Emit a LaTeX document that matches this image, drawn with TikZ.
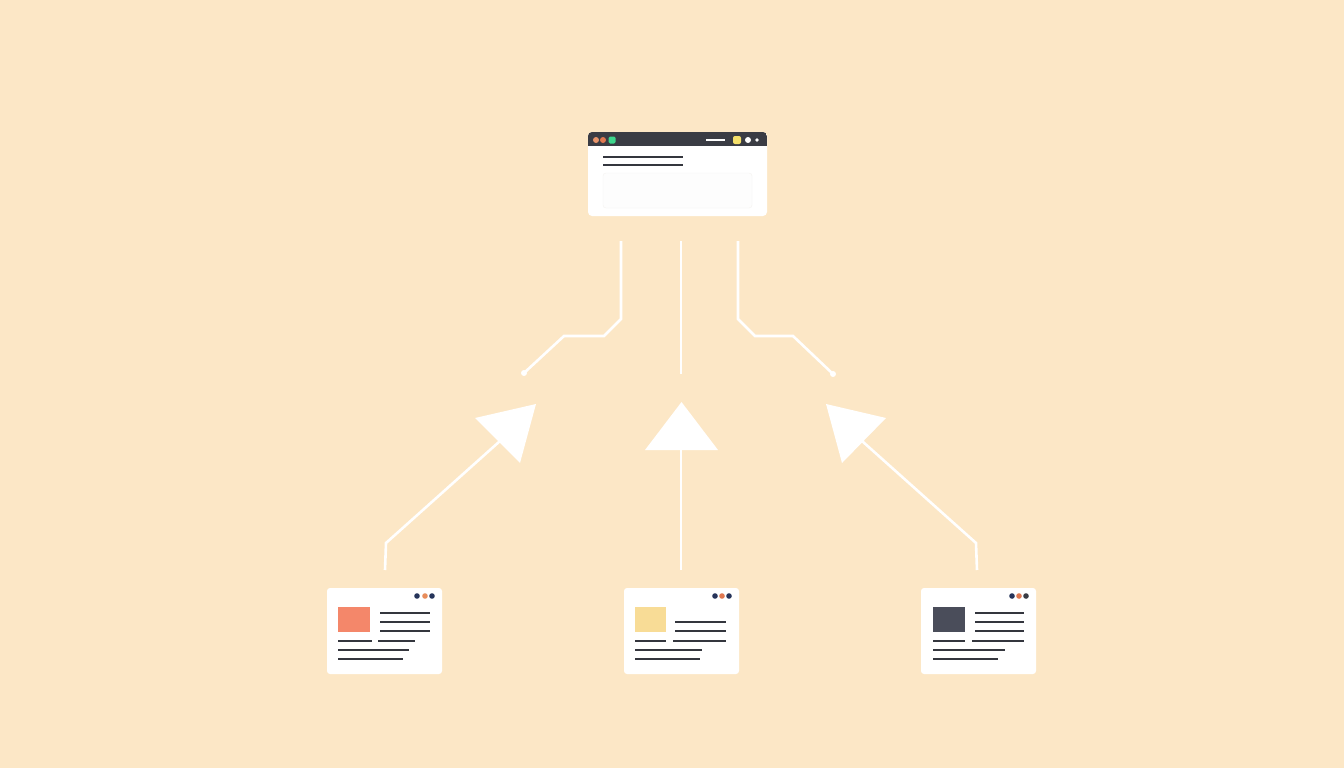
\documentclass[tikz,border=0pt]{standalone}
\usetikzlibrary{calc}
\definecolor{bgc}{RGB}{252,231,198}
\definecolor{darkbar}{RGB}{58,60,68}
\definecolor{ink}{RGB}{52,54,62}
\definecolor{navy}{RGB}{38,52,90}
\definecolor{dotor}{RGB}{232,140,90}
\definecolor{salmon}{RGB}{244,135,106}
\definecolor{sand}{RGB}{248,220,150}
\definecolor{slate}{RGB}{74,77,90}
\definecolor{tbor}{RGB}{232,148,106}
\definecolor{tbred}{RGB}{224,120,80}
\definecolor{tbgreen}{RGB}{61,214,140}
\definecolor{tbyel}{RGB}{245,224,106}
\tikzset{
  card/.style={fill=white, rounded corners=3pt, inner sep=0pt, minimum width=115pt, minimum height=86pt},
  winbox/.style={fill=white, rounded corners=4pt, inner sep=0pt, minimum width=179pt, minimum height=84pt},
  wire/.style={draw=white, line width=2.6pt, line join=miter, line cap=butt},
  head/.style={fill=white},
  txt/.style={draw=ink, line width=2.3pt},
  wtxt/.style={draw=white, line width=2.2pt}
}
\begin{document}
\begin{tikzpicture}[x=1pt,y=-1pt]
\fill[bgc] (0,0) rectangle (1344,768);
\useasboundingbox (0,0) rectangle (1344,768);

% top window
\node[winbox] (top) at (677.5,174) {};
\begin{scope}
  \clip[rounded corners=4pt] (588,132) rectangle (767,216);
  \fill[darkbar] (588,132) rectangle (767,146);
\end{scope}
\fill[tbor] (596,140) circle (3);
\fill[tbred] (603,140) circle (3);
\fill[tbgreen, rounded corners=1.5pt] (608.5,136.5) rectangle (615.5,143.5);
\draw[wtxt] (706,140) -- (725,140);
\fill[tbyel, rounded corners=2pt] (733,136) rectangle (741,144);
\fill[white] (748,140) circle (3);
\fill[white] (757,140) circle (1.8);
\draw[txt] (603,157) -- (683,157);
\draw[txt] (603,165) -- (683,165);
\draw[draw={rgb,255:red,245;green,243;blue,240}, fill={rgb,255:red,253;green,253;blue,253}, rounded corners=3pt] (603,173) rectangle (752,208);

% top connectors
\coordinate (tl) at (621,241);
\coordinate (tc) at (681,241);
\coordinate (tr) at (738,241);
\coordinate (el) at (524,373);
\coordinate (ec) at (681,374);
\coordinate (er) at (833,374);
\draw[wire] (tl) -- (621,319) -- (604,336) -- (564,336) -- (el);
\fill[white] (el) circle (3);
\draw[wire] (tc) -- (ec);
\draw[wire] (tr) -- (738,319) -- (755,336) -- (793,336) -- (er);
\fill[white] (er) circle (3);

% bottom cards
\node[card] (cl) at (384.5,631) {};
\node[card] (cc) at (681.5,631) {};
\node[card] (cr) at (978.5,631) {};

% left card contents
\fill[navy] (417,596) circle (2.8);
\fill[dotor] (425,596) circle (2.8);
\fill[navy] (432,596) circle (2.8);
\fill[salmon] (338,607) rectangle (370,632);
\draw[txt] (380,613) -- (430,613);
\draw[txt] (380,622) -- (430,622);
\draw[txt] (380,631) -- (430,631);
\draw[txt] (338,641) -- (372,641);
\draw[txt] (378,641) -- (415,641);
\draw[txt] (338,650) -- (409,650);
\draw[txt] (338,659) -- (403,659);

% center card contents
\fill[navy] (715,596) circle (2.8);
\fill[tbred] (722,596) circle (2.8);
\fill[navy] (729,596) circle (2.8);
\fill[sand] (635,607) rectangle (666,632);
\draw[txt] (675,622) -- (726,622);
\draw[txt] (675,631) -- (726,631);
\draw[txt] (635,641) -- (666,641);
\draw[txt] (673,641) -- (726,641);
\draw[txt] (635,650) -- (702,650);
\draw[txt] (635,659) -- (700,659);

% right card contents
\fill[navy] (1012,596) circle (2.8);
\fill[tbred] (1019,596) circle (2.8);
\fill[darkbar] (1026,596) circle (2.8);
\fill[slate] (933,607) rectangle (965,632);
\draw[txt] (975,613) -- (1024,613);
\draw[txt] (975,622) -- (1024,622);
\draw[txt] (975,631) -- (1024,631);
\draw[txt] (933,641) -- (965,641);
\draw[txt] (972,641) -- (1024,641);
\draw[txt] (933,650) -- (1005,650);
\draw[txt] (933,659) -- (998,659);

% bottom arrows
\coordinate (bl) at (385,570);
\coordinate (bc) at (681,570);
\coordinate (br) at (977,570);
\draw[wire] (bl) -- (386,543) -- (500,441);
\fill[head] (475,418) -- (536,404) -- (520,463) -- cycle;
\draw[wire] (bc) -- (681,448);
\fill[head] (645,450) -- (718,450) -- (681.5,402) -- cycle;
\draw[wire] (br) -- (976,543) -- (862,441);
\fill[head] (826,404) -- (886,418) -- (842,463) -- cycle;
\end{tikzpicture}
\end{document}
